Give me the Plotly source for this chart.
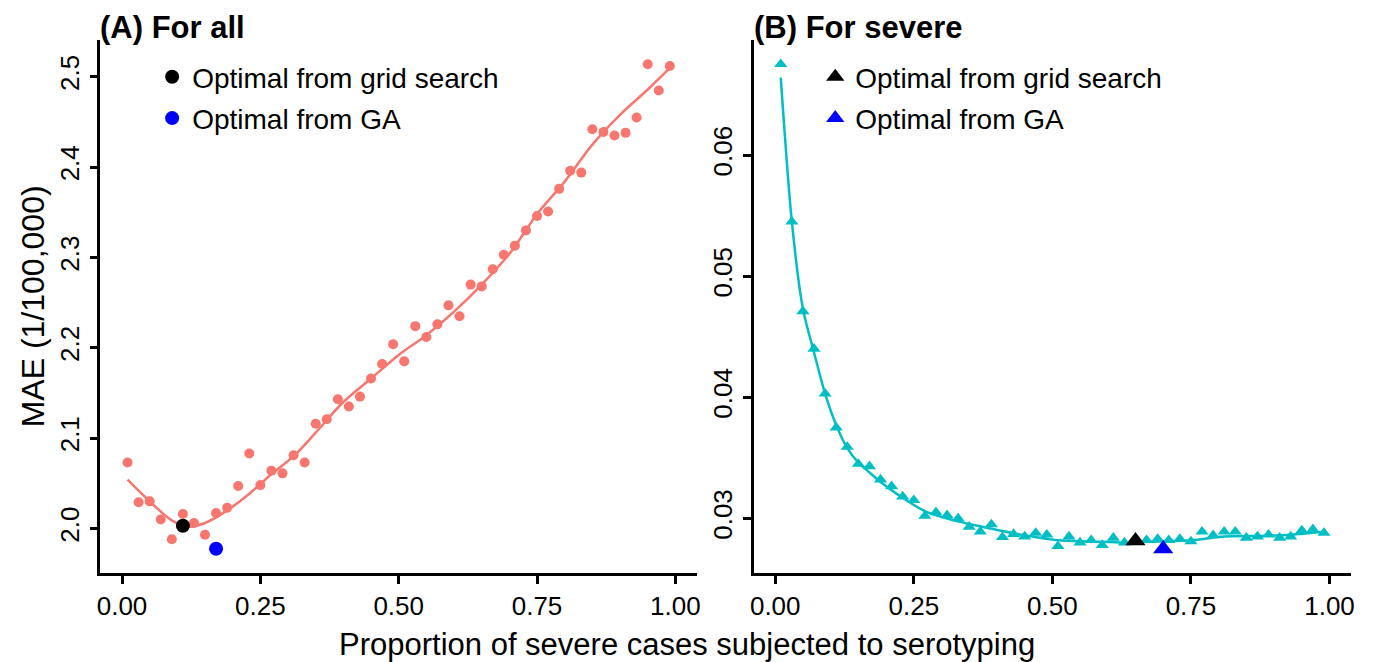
import plotly.graph_objects as go

# ---------------- data ----------------
prop = [0.01, 0.03, 0.05, 0.07, 0.09, 0.11, 0.13, 0.15, 0.17, 0.19,
        0.21, 0.23, 0.25, 0.27, 0.29, 0.31, 0.33, 0.35, 0.37, 0.39,
        0.41, 0.43, 0.45, 0.47, 0.49, 0.51, 0.53, 0.55, 0.57, 0.59,
        0.61, 0.63, 0.65, 0.67, 0.69, 0.71, 0.73, 0.75, 0.77, 0.79,
        0.81, 0.83, 0.85, 0.87, 0.89, 0.91, 0.93, 0.95, 0.97, 0.99]

mae_all = [2.073, 2.029, 2.030, 2.010, 1.988, 2.016, 2.006, 1.993, 2.017, 2.023,
           2.047, 2.083, 2.048, 2.064, 2.061, 2.081, 2.073, 2.116, 2.121, 2.143,
           2.135, 2.146, 2.166, 2.182, 2.204, 2.185, 2.224, 2.212, 2.226, 2.247,
           2.235, 2.270, 2.268, 2.287, 2.303, 2.313, 2.330, 2.346, 2.351, 2.376,
           2.396, 2.394, 2.442, 2.439, 2.435, 2.438, 2.455, 2.514, 2.485, 2.512]

mae_severe = [0.0675, 0.0545, 0.0471, 0.0440, 0.0403, 0.0375, 0.0359, 0.0345, 0.0343, 0.0332,
              0.03265, 0.0318, 0.0315, 0.0302, 0.0305, 0.03025, 0.0300, 0.0293, 0.0289, 0.0295,
              0.02845, 0.0287, 0.0285, 0.0288, 0.02865, 0.0277, 0.0285, 0.0280, 0.0282, 0.0278,
              0.0284, 0.0280, 0.0282, 0.0282, 0.0283, 0.0282, 0.0283, 0.0281, 0.0289, 0.0286,
              0.0289, 0.0289, 0.0284, 0.0285, 0.02865, 0.0284, 0.0285, 0.0290, 0.0291, 0.0288]

# smoothed curves
smooth_all_x = [0.01, 0.05, 0.09, 0.12, 0.15, 0.19, 0.23, 0.27, 0.31, 0.35, 0.40, 0.45,
                0.50, 0.55, 0.60, 0.65, 0.70, 0.75, 0.80, 0.85, 0.90, 0.95, 0.99]
smooth_all_y = [2.054, 2.030, 2.009, 2.002, 2.006, 2.020, 2.0385, 2.060, 2.080, 2.106, 2.140, 2.166,
                2.192, 2.214, 2.240, 2.270, 2.304, 2.348, 2.384, 2.425, 2.458, 2.486, 2.510]

smooth_sev_x = [0.01, 0.03, 0.05, 0.07, 0.09, 0.11, 0.13, 0.15, 0.17, 0.19, 0.22, 0.27,
                0.33, 0.39, 0.45, 0.51, 0.57, 0.63, 0.69, 0.75, 0.81, 0.87, 0.93, 0.99]
smooth_sev_y = [0.0664, 0.0545, 0.0473, 0.0437, 0.0403, 0.0377, 0.0358, 0.0346, 0.0338, 0.0330,
                0.0320, 0.0306, 0.02975, 0.02915, 0.0286, 0.0282, 0.0281, 0.0280, 0.0281, 0.0282,
                0.0285, 0.02855, 0.02865, 0.0289]

grid_all_x, grid_all_y = [0.11], [2.003]
ga_all_x, ga_all_y = [0.17], [1.9775]
grid_sev_x, grid_sev_y = [0.65], [0.02815]
ga_sev_x, ga_sev_y = [0.70], [0.02749]

x_ticks = [0.0, 0.25, 0.5, 0.75, 1.0]
x_ticktext = ["0.00", "0.25", "0.50", "0.75", "1.00"]
y_ticks_all = [2.0, 2.1, 2.2, 2.3, 2.4, 2.5]
y_ticktext_all = ["2.0", "2.1", "2.2", "2.3", "2.4", "2.5"]
y_ticks_sev = [0.03, 0.04, 0.05, 0.06]
y_ticktext_sev = ["0.03", "0.04", "0.05", "0.06"]

legend_labels = ["Optimal from grid search", "Optimal from GA"]

# ---------------- styling ----------------
PINK = "#F8766D"
CYAN = "#00BFC4"
FONT = "Liberation Sans, Arial, sans-serif"


def expand(vals, mult=0.05):
    lo, hi = min(vals), max(vals)
    d = (hi - lo) * mult
    return [lo - d, hi + d]


W, H = 1374, 662
xr = expand(prop)
yr_all = expand(mae_all + ga_all_y + grid_all_y)
yr_sev = expand(mae_severe + ga_sev_y + grid_sev_y)

fig = go.Figure()

# Panel A
fig.add_trace(go.Scatter(x=smooth_all_x, y=smooth_all_y, mode="lines",
                         line=dict(color=PINK, width=2.5, shape="spline", smoothing=1.0),
                         showlegend=False, xaxis="x", yaxis="y", hoverinfo="skip"))
fig.add_trace(go.Scatter(x=prop, y=mae_all, mode="markers",
                         marker=dict(color=PINK, size=10),
                         showlegend=False, xaxis="x", yaxis="y"))
fig.add_trace(go.Scatter(x=grid_all_x, y=grid_all_y, mode="markers",
                         marker=dict(color="black", size=14),
                         name=legend_labels[0], legend="legend", legendgroup="a1",
                         xaxis="x", yaxis="y"))
fig.add_trace(go.Scatter(x=ga_all_x, y=ga_all_y, mode="markers",
                         marker=dict(color="#0000FF", size=14),
                         name=legend_labels[1], legend="legend", legendgroup="a2",
                         xaxis="x", yaxis="y"))

# Panel B
fig.add_trace(go.Scatter(x=smooth_sev_x, y=smooth_sev_y, mode="lines",
                         line=dict(color=CYAN, width=2.5, shape="spline", smoothing=0.8),
                         showlegend=False, xaxis="x2", yaxis="y2", hoverinfo="skip"))
fig.add_trace(go.Scatter(x=prop, y=mae_severe, mode="markers",
                         marker=dict(color=CYAN, size=11.5, symbol="triangle-up"),
                         showlegend=False, xaxis="x2", yaxis="y2"))
fig.add_trace(go.Scatter(x=grid_sev_x, y=grid_sev_y, mode="markers",
                         marker=dict(color="black", size=17.5, symbol="triangle-up"),
                         name=legend_labels[0], legend="legend2", legendgroup="b1",
                         xaxis="x2", yaxis="y2"))
fig.add_trace(go.Scatter(x=ga_sev_x, y=ga_sev_y, mode="markers",
                         marker=dict(color="#0000FF", size=17.5, symbol="triangle-up"),
                         name=legend_labels[1], legend="legend2", legendgroup="b2",
                         xaxis="x2", yaxis="y2"))

# geometry (pixels)
L1, R1 = 97, 697
L2, R2 = 754, 1355
TOP, BOT = 40, 573

axis_common = dict(showline=True, linecolor="black", linewidth=2.5, ticks="outside",
                   ticklen=8, tickwidth=2.5, tickcolor="black", showgrid=False,
                   zeroline=False, tickfont=dict(family=FONT, size=26, color="black"),
                   fixedrange=True)

ydom = [(H - BOT) / H, (H - TOP) / H]

legend_common = dict(xanchor="left", yanchor="top", bgcolor="rgba(0,0,0,0)",
                     font=dict(family=FONT, size=28, color="black"),
                     tracegroupgap=2, itemclick=False, itemdoubleclick=False)

fig.update_layout(
    width=W, height=H,
    margin=dict(l=0, r=0, t=0, b=0),
    paper_bgcolor="white", plot_bgcolor="white",
    xaxis=dict(domain=[L1 / W, R1 / W], range=xr, tickvals=x_ticks, ticktext=x_ticktext,
               anchor="y", **axis_common),
    yaxis=dict(domain=ydom, range=yr_all, tickvals=y_ticks_all, ticktext=y_ticktext_all,
               tickangle=-90, anchor="x", **axis_common),
    xaxis2=dict(domain=[L2 / W, R2 / W], range=xr, tickvals=x_ticks, ticktext=x_ticktext,
                anchor="y2", **axis_common),
    yaxis2=dict(domain=ydom, range=yr_sev, tickvals=y_ticks_sev, ticktext=y_ticktext_sev,
                tickangle=-90, anchor="x2", **axis_common),
    legend=dict(x=(L1 + 52) / W, y=(H - 52) / H, **legend_common),
    legend2=dict(x=(L2 + 62) / W, y=(H - 52) / H, **legend_common),
    annotations=[
        dict(text="<b>(A) For all</b>", x=(L1 - 2) / W, y=(H - 27) / H,
             xref="paper", yref="paper", xanchor="left", yanchor="middle", showarrow=False,
             font=dict(family=FONT, size=31, color="black")),
        dict(text="<b>(B) For severe</b>", x=(L2 - 2) / W, y=(H - 27) / H,
             xref="paper", yref="paper", xanchor="left", yanchor="middle", showarrow=False,
             font=dict(family=FONT, size=31, color="black")),
        dict(text="Proportion of severe cases subjected to serotyping", x=0.5, y=18 / H,
             xref="paper", yref="paper", xanchor="center", yanchor="middle", showarrow=False,
             font=dict(family=FONT, size=31, color="black")),
        dict(text="MAE (1/100,000)", x=30 / W, y=(H - (TOP + BOT) / 2) / H,
             xref="paper", yref="paper", xanchor="center", yanchor="middle", showarrow=False,
             textangle=-90, font=dict(family=FONT, size=32, color="black")),
    ],
)

fig.write_html("out.html")
